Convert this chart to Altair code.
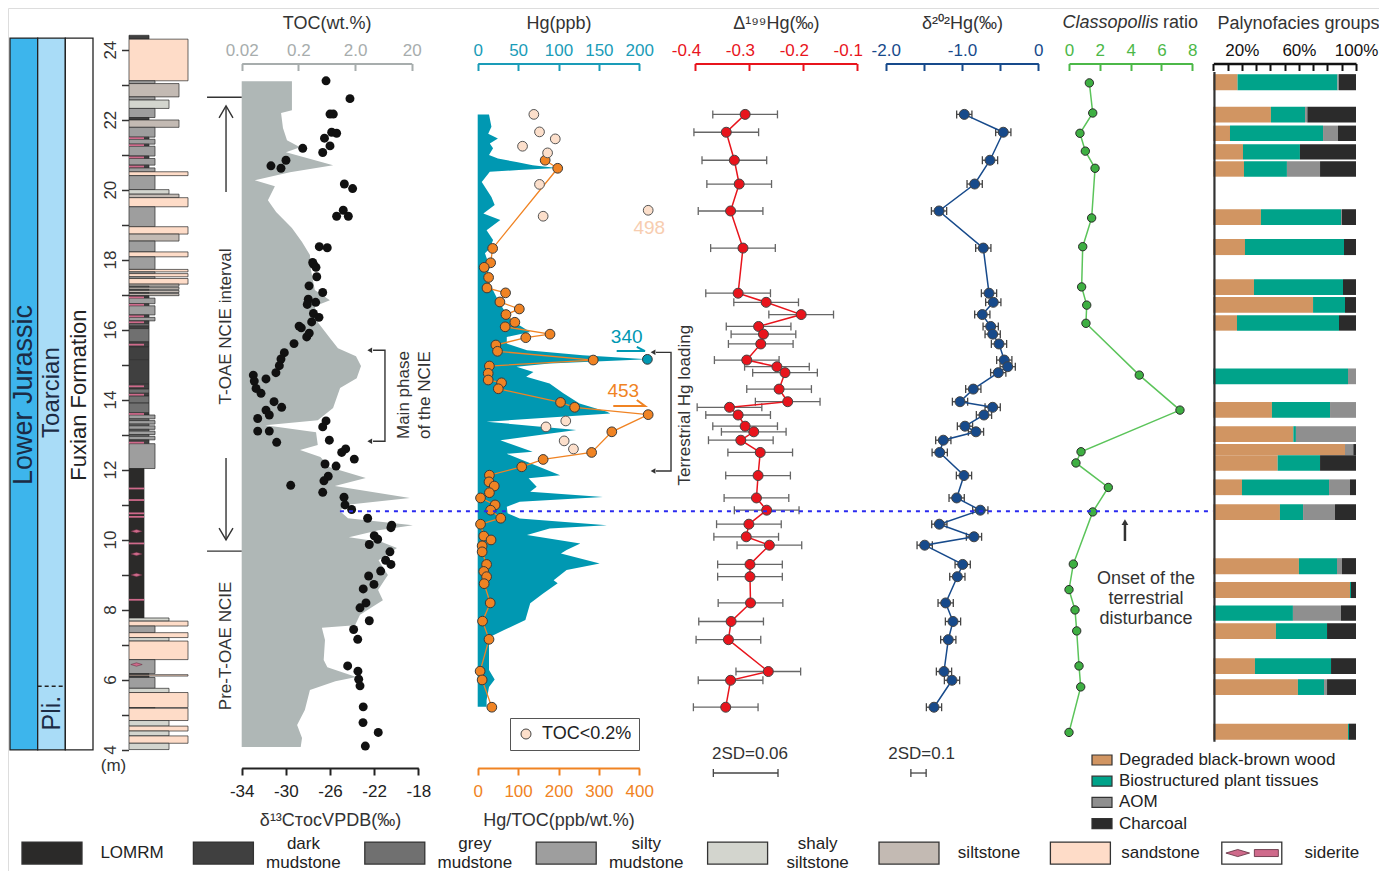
import altair as alt
import pandas as pd

# ============================ DATA ============================
strat_units = ["Lower Jurassic", "Toarcian", "Fuxian Formation"]
strat_top_m = 24.33
strat_base_m = 3.99
pli_boundary_m = 5.81

# lithology beds (top m, base m, lithology)
lith_beds = [
    (24.41, 24.30, "dark mudstone"), (24.30, 23.11, "sandstone"), (23.11, 23.03, "silty mudstone"),
    (23.03, 22.65, "siltstone"), (22.65, 22.56, "silty mudstone"), (22.56, 22.32, "shaly siltstone"),
    (22.32, 22.06, "silty mudstone"), (22.06, 21.99, "dark mudstone"), (21.99, 21.78, "siltstone"),
    (21.78, 21.50, "silty mudstone"), (21.50, 21.44, "dark mudstone"), (21.44, 21.30, "silty mudstone"),
    (21.30, 21.24, "dark mudstone"), (21.24, 20.96, "silty mudstone"), (20.96, 20.89, "dark mudstone"),
    (20.89, 20.70, "silty mudstone"), (20.70, 20.62, "dark mudstone"), (20.62, 20.51, "silty mudstone"),
    (20.51, 20.40, "sandstone"), (20.40, 20.00, "silty mudstone"), (20.00, 19.87, "shaly siltstone"),
    (19.87, 19.77, "siltstone"), (19.77, 19.51, "sandstone"), (19.51, 18.94, "silty mudstone"),
    (18.94, 18.73, "sandstone"), (18.73, 18.53, "siltstone"), (18.53, 18.22, "silty mudstone"),
    (18.22, 18.08, "sandstone"), (18.08, 17.72, "silty mudstone"), (17.72, 17.65, "sandstone"),
    (17.65, 17.60, "silty mudstone"), (17.60, 17.51, "sandstone"), (17.51, 17.46, "silty mudstone"),
    (17.46, 17.30, "sandstone"), (17.30, 17.24, "siltstone"), (17.24, 17.21, "grey mudstone"),
    (17.21, 17.15, "siltstone"), (17.15, 17.12, "grey mudstone"), (17.12, 17.06, "siltstone"),
    (17.06, 17.03, "grey mudstone"), (17.03, 16.97, "siltstone"), (16.97, 16.95, "grey mudstone"),
    (16.95, 16.90, "dark mudstone"), (16.90, 16.74, "silty mudstone"), (16.74, 16.68, "dark mudstone"),
    (16.68, 16.42, "silty mudstone"), (16.42, 16.35, "dark mudstone"), (16.35, 16.25, "silty mudstone"),
    (16.25, 16.17, "dark mudstone"), (16.17, 16.10, "grey mudstone"), (16.10, 16.03, "dark mudstone"),
    (16.03, 15.65, "grey mudstone"), (15.65, 15.50, "dark mudstone"), (15.50, 15.14, "dark mudstone"),
    (15.14, 14.45, "dark mudstone"), (14.45, 14.30, "dark mudstone"), (14.30, 14.18, "grey mudstone"),
    (14.18, 14.10, "dark mudstone"), (14.10, 13.90, "grey mudstone"), (13.90, 13.62, "grey mudstone"),
    (13.62, 13.56, "dark mudstone"), (13.56, 13.45, "silty mudstone"), (13.45, 13.40, "grey mudstone"),
    (13.40, 13.30, "silty mudstone"), (13.30, 13.25, "grey mudstone"), (13.25, 13.15, "silty mudstone"),
    (13.15, 13.10, "grey mudstone"), (13.10, 13.00, "silty mudstone"), (13.00, 12.95, "grey mudstone"),
    (12.95, 12.85, "silty mudstone"), (12.85, 12.74, "dark mudstone"), (12.74, 12.03, "silty mudstone"),
    (12.03, 7.76, "LOMRM"), (7.76, 7.67, "shaly siltstone"), (7.67, 7.53, "sandstone"),
    (7.53, 7.34, "silty mudstone"), (7.34, 7.20, "sandstone"), (7.20, 7.10, "shaly siltstone"),
    (7.10, 6.57, "sandstone"), (6.57, 6.17, "silty mudstone"), (6.17, 6.14, "dark mudstone"),
    (6.14, 6.10, "sandstone"), (6.10, 6.06, "dark mudstone"), (6.06, 5.75, "silty mudstone"),
    (5.75, 5.63, "shaly siltstone"), (5.63, 5.20, "sandstone"), (5.20, 5.18, "silty mudstone"),
    (5.18, 4.83, "sandstone"), (4.83, 4.67, "shaly siltstone"), (4.67, 4.53, "sandstone"),
    (4.53, 4.39, "shaly siltstone"), (4.39, 4.18, "sandstone"), (4.18, 4.00, "shaly siltstone"),
]
siderite_bands_m = [21.47, 21.27, 20.92, 20.66, 16.92, 16.71, 16.38, 16.21, 15.57, 14.38, 14.14,
                    13.59, 12.77, 11.46, 11.13, 10.75, 10.65, 9.89, 8.28]
siderite_lenses_m = [10.24, 9.59, 8.99, 6.43]

# TOC (wt.%) outline
toc_m = [23.10, 22.27, 22.19, 21.76, 21.41, 21.21, 21.07, 20.70, 20.50, 20.27, 20.10, 19.70, 19.36,
         18.90, 18.50, 18.13, 17.70, 17.13, 16.84, 16.67, 16.21, 15.76, 15.47, 15.24, 14.96, 14.61,
         14.33, 13.76, 13.41, 13.27, 13.07, 12.70, 12.56, 12.36, 12.07, 11.76, 11.53, 11.19, 10.99,
         10.81, 10.61, 10.41, 10.27, 10.07, 9.93, 9.76, 9.41, 8.99, 8.56, 8.27, 7.85, 7.55, 7.48,
         7.13, 6.56, 6.35, 6.07, 5.95, 5.70, 5.13, 4.70, 4.33, 4.07]
toc_wt = [0.154, 0.154, 0.099, 0.107, 0.126, 0.214, 0.121, 0.82, 0.142, 0.034, 0.077, 0.058, 0.081,
          0.154, 0.232, 0.32, 0.334, 0.39, 0.72, 0.39, 0.44, 0.72, 1.0, 2.08, 2.55, 2.14,
          1.09, 0.82, 0.44, 0.052, 0.41, 0.44, 0.214, 0.49, 0.72, 3.1, 0.88, 18.6, 1.33,
          1.09, 1.5, 21.0, 5.2, 1.56, 5.9, 11.0, 5.2, 7.6, 5.1, 6.2, 2.45, 2.0, 0.52,
          0.59, 0.56, 0.65, 2.1, 0.9, 0.32, 0.26, 0.19, 0.232, 0.22]

# delta13C TOC
d13c_m = [23.11, 22.60, 22.16, 22.16, 21.64, 21.61, 21.47, 21.25, 21.18, 21.06,
          20.84, 20.68, 20.61, 20.16, 20.03, 19.41, 19.24, 19.24, 18.37, 18.34,
          17.92, 17.87, 17.78, 17.51, 17.25, 17.06, 16.87, 16.72, 16.78, 16.46,
          16.35, 16.22, 16.10, 16.05, 15.79, 15.90, 15.60, 15.34, 15.16, 14.97,
          14.77, 14.59, 14.70, 14.53, 14.32, 14.18, 13.94, 13.78, 13.70, 13.56,
          13.46, 13.39, 13.22, 13.10, 13.10, 12.84, 12.78, 12.59, 12.49, 12.30,
          12.16, 12.10, 11.81, 11.68, 11.55, 11.35, 11.21, 10.99, 10.86, 10.61,
          10.41, 10.34, 10.11, 10.01, 9.86, 9.65, 9.41, 9.29, 9.10, 8.96,
          8.72, 8.59, 8.19, 8.05, 7.68, 7.43, 7.15, 6.39, 6.24, 6.01,
          5.82, 5.22, 4.77, 4.49, 4.10]
d13c_val = [-26.36, -24.19, -26.0, -25.7, -25.85, -25.4, -26.5, -26.0, -28.47, -26.66,
            -29.99, -31.35, -30.44, -24.7, -23.95, -24.8, -25.4, -24.34, -26.97, -26.25,
            -27.57, -27.5, -27.27, -27.2, -27.9, -26.66, -27.97, -28.06, -27.3, -27.5,
            -27.0, -27.66, -28.8, -28.6, -28.11, -27.88, -29.26, -30.14, -30.44, -30.59,
            -30.9, -31.8, -32.95, -32.86, -32.7, -32.25, -31.07, -30.38, -31.8, -31.5,
            -32.55, -26.36, -26.66, -32.55, -31.5, -26.06, -30.83, -24.58, -24.94, -23.8,
            -26.45, -25.45, -26.16, -26.55, -29.56, -26.66, -24.73, -24.64, -24.04, -22.59,
            -20.41, -20.48, -21.99, -21.68, -22.44, -20.57, -20.96, -20.48, -21.41, -22.5,
            -22.02, -22.99, -22.74, -23.28, -22.44, -23.86, -23.49, -24.4, -23.47, -23.4,
            -23.28, -22.99, -23.01, -21.63, -22.8]

# Hg (ppb) outline
hg_m = [22.15, 21.80, 21.60, 21.46, 21.32, 21.18, 20.99, 20.89, 20.79, 20.70,
        20.62, 20.56, 20.51, 20.22, 19.79, 19.56, 19.32, 19.13, 18.84, 18.56,
        18.32, 18.18, 17.79, 17.51, 17.22, 16.94, 16.65, 16.37, 16.13, 15.93,
        15.79, 15.60, 15.41, 15.27, 15.15, 15.03, 14.94, 14.79, 14.65, 14.46,
        14.18, 13.89, 13.65, 13.60, 13.37, 13.13, 12.84, 12.51, 12.45, 11.84,
        11.75, 11.51, 11.37, 11.22, 11.08, 10.94, 10.75, 10.60, 10.41, 10.32,
        10.13, 9.89, 9.70, 9.60, 9.32, 9.13, 8.84, 8.75, 8.46, 8.18,
        7.70, 7.41, 7.22, 7.13, 6.27, 6.00, 5.79, 5.41, 5.22]
hg_ppb = [14, 17, 13, 25, 15, 19, 14, 25, 48, 68,
          98, 51, 15, 5, 17, 21, 7, 28, 11, 19,
          15, 9, 15, 11, 17, 23, 30, 38, 51, 65,
          36, 36, 61, 130, 210, 89, 48, 69, 60, 89,
          106, 126, 160, 164, 11, 122, 28, 68, 36, 102,
          63, 73, 65, 155, 52, 36, 37, 52, 160, 89,
          61, 127, 110, 103, 151, 110, 94, 99, 81, 65,
          59, 32, 15, 14, 14, 21, 14, 11, 11]
hg_peak_m = [15.15]
hg_peak_plotted = [210]      # true value 340 (off scale)

# Hg/TOC (ppb/wt.%)
hgtoc_m = [20.84, 20.61, 18.32, 17.91, 17.78, 17.49, 17.19, 17.05, 16.79, 16.59,
           16.43, 16.21, 16.08, 15.87, 15.77, 15.56, 15.38, 15.13, 14.96, 14.75,
           14.56, 14.48, 14.31, 13.92, 13.78, 13.57, 13.08, 12.49, 12.29, 12.08,
           11.84, 11.65, 11.53, 11.34, 11.19, 10.99, 10.84, 10.61, 10.44, 10.10,
           9.99, 9.82, 9.65, 9.29, 9.09, 8.94, 8.74, 8.19, 7.67, 7.15,
           6.24, 5.99, 5.21]
hgtoc_val = [167, 198, 37, 32, 16, 27, 23, 69, 55, 103,
             70, 92, 68, 179, 119, 45, 49, 286, 29, 26,
             26, 59, 51, 205, 240, 422, 332, 282, 162, 109,
             29, 28, 41, 29, 7, 43, 32, 57, 7, 15,
             33, 11, 11, 22, 15, 22, 16, 31, 12, 28,
             6, 11, 35]
lowtoc_m = [22.15, 21.65, 21.45, 21.24, 21.05, 20.15, 19.24, 19.41, 13.39, 13.22, 12.82, 12.59]
lowtoc_val = [139, 153, 192, 111, 173, 153, 162, 422, 218, 169, 214, 237]

# Hg isotopes
iso_m = [22.15, 21.64, 20.84, 20.16, 19.39, 18.33, 17.04, 16.78, 16.43, 16.09,
         15.87, 15.59, 15.13, 14.94, 14.77, 14.30, 13.94, 13.78, 13.56, 13.24,
         13.08, 12.84, 12.49, 11.83, 11.19, 10.84, 10.44, 10.08, 9.84, 9.29,
         8.94, 8.19, 7.66, 7.14, 6.23, 5.98, 5.21]
d199hg = [-0.307, -0.342, -0.327, -0.318, -0.334, -0.311, -0.320, -0.268, -0.203, -0.282,
          -0.273, -0.278, -0.304, -0.248, -0.233, -0.244, -0.228, -0.336, -0.320, -0.307,
          -0.291, -0.315, -0.279, -0.283, -0.286, -0.267, -0.300, -0.305, -0.262, -0.298,
          -0.298, -0.297, -0.333, -0.338, -0.264, -0.334, -0.343]
d202hg = [-0.970, -0.459, -0.633, -0.834, -1.301, -0.721, -0.646, -0.590, -0.734, -0.624,
          -0.598, -0.515, -0.446, -0.401, -0.525, -0.852, -1.026, -0.598, -0.712, -0.961,
          -0.817, -1.245, -1.292, -0.974, -1.070, -0.760, -1.297, -0.843, -1.489, -0.991,
          -1.061, -1.214, -1.118, -1.180, -1.236, -1.131, -1.367]
d199_2sd = 0.06
d202_2sd = 0.1

# Classopollis ratio
cla_m = [23.05, 22.19, 21.61, 21.10, 20.61, 19.19, 18.37, 17.22, 16.70, 16.18, 14.70, 13.70,
         12.51, 12.19, 11.49, 10.79, 9.30, 8.57, 7.99, 7.39, 6.39, 5.79, 4.49]
cla_ratio = [1.32, 1.54, 0.71, 1.06, 1.69, 1.47, 0.89, 0.82, 1.15, 1.10, 4.56, 7.20,
             0.78, 0.45, 2.55, 1.54, 0.28, 0.0, 0.39, 0.50, 0.65, 0.76, 0.0]

# Palynofacies groups (%)
pal_groups = ["Degraded black-brown wood", "Biostructured plant tissues", "AOM", "Charcoal"]
pal_top = [23.30, 22.37, 21.83, 21.30, 20.81, 19.44, 18.59, 17.44, 16.93, 16.41, 14.89, 13.93,
           13.24, 12.73, 12.41, 11.72, 11.01, 9.47, 8.79, 8.12, 7.61, 6.61, 6.01, 4.74]
pal_bot = [22.84, 21.92, 21.39, 20.86, 20.37, 18.99, 18.13, 16.99, 16.48, 15.97, 14.44, 13.48,
           12.79, 12.41, 11.97, 11.27, 10.56, 9.01, 8.33, 7.68, 7.16, 6.16, 5.56, 4.28]
pal_wood = [17, 40.4, 11.7, 20.8, 21.5, 33.4, 22.2, 28.5, 69.9, 16.6, 0, 41.1,
            56.1, 92.3, 45.1, 20.1, 46.7, 60, 95.8, 0, 43.9, 29.2, 59.3, 94.4]
pal_bio = [70, 23.9, 65.2, 39.9, 30.1, 56.1, 69.4, 62.4, 22.4, 71.5, 94.4, 40.7,
           1.8, 0, 29.7, 61, 16.2, 26.7, 0.7, 55.8, 35.8, 53.3, 18.3, 0.7]
pal_aom = [1, 1.6, 10.5, 0, 23.2, 0.7, 0, 0, 0, 0, 5.6, 18.2,
           42.1, 5.8, 0, 14.7, 22.4, 3.5, 0, 33.7, 0, 0, 2.1, 0]
pal_char = [12, 34.1, 12.6, 39.3, 25.2, 9.8, 8.4, 9.1, 7.7, 11.9, 0, 0,
            0, 1.9, 25.2, 4.2, 14.7, 9.8, 3.5, 10.5, 20.3, 17.5, 20.3, 4.9]

onset_m = 10.81
toae_top_m = 22.64
toae_base_m = 9.67

# ============================ STYLE ============================
FONT = "Liberation Sans"
W, H = 1371, 863
PAGE = 8
YDOM = [0.53, 25.19]
TOP_OFF = 63.5 - (PAGE + H)
BOT_OFF = 768 - (PAGE + H)

LITH_ORDER = ["LOMRM", "dark mudstone", "grey mudstone", "silty mudstone",
              "shaly siltstone", "siltstone", "sandstone"]
LITH_COL = ["#2B2A29", "#404040", "#707070", "#9E9E9E", "#D3D5CE", "#C3BAB3", "#FEDCC8"]
LITH_W = {"LOMRM": 15, "dark mudstone": 20, "grey mudstone": 20, "silty mudstone": 26,
          "shaly siltstone": 40, "siltstone": 50, "sandstone": 59}
PINK = "#CF6A8B"
TOC_GREY = "#A7ADAD"
TEAL = "#0098B2"
ORANGE = "#F08323"
PEACH = "#FCDFCB"
RED = "#E8141C"
NAVY = "#174A8B"
GREEN = "#3EAF42"
GREEN_L = "#5BC45A"
PAL_COL = ["#D19562", "#00A38A", "#8F8F8F", "#2B2B2B"]
LENS_PATH = "M-1,0L0,-0.3L1,0L0,0.3Z"

# bottom lithology key layout (row centre in m, half swatch height, half line spacing)
KEY_C, KEY_HALF, KEY_LINE = 1.043, 0.314, 0.271

SC = {
    "strat": dict(domain=[0, 3], range=[2, 85]),
    "lith": dict(domain=[0, 60], range=[121, 181]),
    "d13": dict(domain=[-34, -18], range=[233.7, 410.3]),
    "toc": dict(type="log", domain=[0.02, 20], range=[233.7, 403.7]),
    "hg": dict(domain=[0, 200], range=[469.7, 631.3]),
    "hgtoc": dict(domain=[0, 400], range=[469.7, 631.3]),
    "d199": dict(domain=[-0.4, -0.1], range=[687, 848.7]),
    "d202": dict(domain=[-2, 0], range=[877.7, 1030.3]),
    "cla": dict(domain=[0, 8], range=[1061, 1184.3]),
    "pal": dict(domain=[0, 100], range=[1205.3, 1348]),
    "key": dict(domain=[0, 8], range=[14, 1385.2]),
}


def xscale(name):
    d = dict(SC[name])
    d["nice"] = False
    if d.get("type") != "log":
        d["zero"] = False
    return alt.Scale(**d)


def X(field, sc, axis=None):
    return alt.X(field, type="quantitative", scale=xscale(sc), axis=axis)


def Y(field="m", axis=None):
    return alt.Y(field, type="quantitative",
                 scale=alt.Scale(domain=YDOM, nice=False, zero=False), axis=axis)


def top_axis(title, values, color, label_expr, **extra):
    kw = dict(orient="bottom", offset=TOP_OFF, values=values, labelExpr=label_expr,
              domainColor=color, domainWidth=2, tickColor=color, tickWidth=2, tickSize=7,
              labelColor=color, labelFontSize=17, labelBaseline="alphabetic", labelPadding=-15.5,
              labelFlush=False, labelOverlap=False, grid=False, title=title,
              titleFontSize=18, titleFontWeight="normal", titleColor="#333",
              titleY=-35.5, titleBaseline="alphabetic")
    kw.update(extra)
    return alt.Axis(**kw)


def bottom_axis(title, values, color, label_expr):
    return alt.Axis(orient="bottom", offset=BOT_OFF, values=values, labelExpr=label_expr,
                    domainColor=color, domainWidth=2, tickColor=color, tickWidth=2, tickSize=7,
                    labelColor=color, labelFontSize=17, labelPadding=8, labelFlush=False,
                    labelOverlap=False, grid=False, title=title, titleFontSize=18,
                    titleFontWeight="normal", titleColor="#333", titleY=57,
                    titleBaseline="alphabetic")


def text_layer(df_or_rows, sc, angle=None, **kw):
    df = df_or_rows if isinstance(df_or_rows, pd.DataFrame) else \
        pd.DataFrame(df_or_rows, columns=["t", "x", "m", "fs", "col"])
    mk = dict(font=FONT, align="center", baseline="middle")
    mk.update(kw)
    if angle is not None:
        mk["angle"] = angle
    return alt.Chart(df).mark_text(**mk).encode(
        x=X("x", sc), y=Y("m"), text="t:N",
        size=alt.Size("fs:Q", scale=None), color=alt.Color("col:N", scale=None))


def seg_layer(rows, sc, color, width):
    df = pd.DataFrame(rows, columns=["seg", "i", "x", "m"])
    return alt.Chart(df).mark_line(color=color, strokeWidth=width).encode(
        x=X("x", sc), y=Y("m"), detail="seg:N", order="i:Q")


layers = []

# ---------------- stratigraphic columns ----------------
strat_df = pd.DataFrame({"unit": strat_units, "c0": [0, 1, 2], "c1": [1, 2, 3],
                         "top": strat_top_m, "bot": strat_base_m,
                         "col": ["#3DB5EC", "#A9DCF7", "#FFFFFF"]})
layers.append(alt.Chart(strat_df).mark_rect(stroke="#222", strokeWidth=1.3).encode(
    x=X("c0", "strat"), x2=alt.X2("c1"), y=Y("top"), y2=alt.Y2("bot"),
    fill=alt.Fill("col:N", scale=None)))
pli_df = pd.DataFrame({"c0": [1], "c1": [2], "m": [pli_boundary_m]})
layers.append(alt.Chart(pli_df).mark_rule(color="#222", strokeWidth=1.5, strokeDash=[4, 3]).encode(
    x=X("c0", "strat"), x2=alt.X2("c1"), y=Y("m")))
layers.append(text_layer([
    ("Lower Jurassic", 0.5, 14.13, 27, "#1C2B44"),
    ("Toarcian", 1.5, 14.2, 24, "#1C2B44"),
    ("Pli.", 1.5, 5.04, 25, "#1C2B44"),
    ("Fuxian Formation", 2.5, 14.13, 22, "#222222"),
], "strat", angle=270))

# ---------------- lithology column ----------------
lith_df = pd.DataFrame(lith_beds, columns=["top", "bot", "lith"])
lith_df["w0"] = 0
lith_df["w"] = lith_df["lith"].map(LITH_W)
y_axis = alt.Axis(orient="left", offset=-120.5, values=list(range(4, 25)),
                  labelExpr="datum.value % 2 === 0 ? datum.label : ''",
                  labelAngle=270, labelAlign="center", labelBaseline="bottom",
                  labelFontSize=17, labelColor="#333", labelPadding=2,
                  tickSize=7, tickColor="#333", tickWidth=1.5, domain=False, grid=False,
                  title="(m)", titleAngle=0, titleX=-15.5, titleY=762,
                  titleBaseline="alphabetic", titleAlign="center", titleFontSize=17,
                  titleFontWeight="normal", titleColor="#333")
lith_fill = alt.Fill("lith:N", scale=alt.Scale(domain=LITH_ORDER, range=LITH_COL), legend=None)
layers.append(alt.Chart(lith_df).mark_rect(stroke="#2A2A2A", strokeWidth=0.7).encode(
    x=X("w0", "lith"), x2=alt.X2("w"), y=Y("top", axis=y_axis), y2=alt.Y2("bot"), fill=lith_fill))

band_df = pd.DataFrame({"m": siderite_bands_m})
band_df["t"] = band_df["m"] + 0.025
band_df["b"] = band_df["m"] - 0.025
band_df["x0"] = 0
band_df["x1"] = LITH_W["LOMRM"]
layers.append(alt.Chart(band_df).mark_rect(color=PINK).encode(
    x=X("x0", "lith"), x2=alt.X2("x1"), y=Y("t"), y2=alt.Y2("b")))

lens_df = pd.DataFrame({"m": siderite_lenses_m})
lens_df["x"] = LITH_W["LOMRM"] / 2
layers.append(alt.Chart(lens_df).mark_point(shape=LENS_PATH, size=130, filled=True, opacity=1,
                                            fill=PINK, stroke="#5A2A3A", strokeWidth=0.5).encode(
    x=X("x", "lith"), y=Y("m")))

# ---------------- lithology key (bottom row) ----------------
key_items = LITH_ORDER + ["siderite"]
key = pd.DataFrame({"lith": key_items, "i": range(len(key_items))})
key["x0"] = key["i"]
key["x1"] = key["i"] + 0.35
key["xl"] = key["i"] + 0.642
key["t"] = KEY_C + KEY_HALF
key["b"] = KEY_C - KEY_HALF
sw = key[key["lith"] != "siderite"]
layers.append(alt.Chart(sw).mark_rect(stroke="#333", strokeWidth=1.3).encode(
    x=X("x0", "key"), x2=alt.X2("x1"), y=Y("t"), y2=alt.Y2("b"), fill=lith_fill))
sid = key[key["lith"] == "siderite"].copy()
layers.append(alt.Chart(sid).mark_rect(stroke="#333", strokeWidth=1.3, fill="white").encode(
    x=X("x0", "key"), x2=alt.X2("x1"), y=Y("t"), y2=alt.Y2("b")))
sid_lens = pd.DataFrame({"x": sid["i"] + 0.093, "m": KEY_C})
layers.append(alt.Chart(sid_lens).mark_point(shape=LENS_PATH, size=560, filled=True, opacity=1,
                                             fill=PINK, stroke="#5A2A3A", strokeWidth=0.8).encode(
    x=X("x", "key"), y=Y("m")))
sid_bar = pd.DataFrame({"x0": sid["i"] + 0.19, "x1": sid["i"] + 0.33,
                        "t": KEY_C + 0.1, "b": KEY_C - 0.1})
layers.append(alt.Chart(sid_bar).mark_rect(fill=PINK, stroke="#5A2A3A", strokeWidth=0.8).encode(
    x=X("x0", "key"), x2=alt.X2("x1"), y=Y("t"), y2=alt.Y2("b")))
lab_rows = []
for _, r in key.iterrows():
    words = r["lith"].split(" ")
    if len(words) == 1:
        lab_rows.append((words[0], r["xl"], KEY_C, 17, "#222"))
    else:
        lab_rows.append((words[0], r["xl"], KEY_C + KEY_LINE, 17, "#222"))
        lab_rows.append((words[1], r["xl"], KEY_C - KEY_LINE, 17, "#222"))
layers.append(text_layer(lab_rows, "key"))

# ---------------- TOC / d13C ----------------
toc_df = pd.DataFrame({"m": toc_m, "toc": toc_wt})
toc_df["base"] = 0.02
layers.append(alt.Chart(toc_df).mark_area(orient="horizontal", color="#AFB7B6", opacity=1).encode(
    x=X("toc", "toc", axis=top_axis(
        "TOC(wt.%)", [0.02, 0.2, 2, 20], TOC_GREY,
        "datum.value < 0.05 ? '0.02' : datum.value < 0.5 ? '0.2' : datum.value < 5 ? '2.0' : '20'")),
    x2=alt.X2("base"), y=Y("m")))

d13_df = pd.DataFrame({"m": d13c_m, "v": d13c_val})
layers.append(alt.Chart(d13_df).mark_circle(size=80, color="#111", opacity=1).encode(
    x=X("v", "d13", axis=bottom_axis("δ¹³CᴛᴏᴄVPDB(‰)", [-34, -30, -26, -22, -18], "#222",
                                     "toString(datum.value)")),
    y=Y("m")))

# ---------------- Hg / Hg-TOC ----------------
hg_df = pd.DataFrame({"m": hg_m, "hg": hg_ppb})
hg_df["zero"] = 0
layers.append(alt.Chart(hg_df).mark_area(orient="horizontal", color=TEAL, opacity=1).encode(
    x=X("hg", "hg", axis=top_axis("Hg(ppb)", [0, 50, 100, 150, 200], "#1A9CB8",
                                  "toString(datum.value)")),
    x2=alt.X2("zero"), y=Y("m")))

ht_df = pd.DataFrame({"m": hgtoc_m, "v": hgtoc_val})
layers.append(alt.Chart(ht_df).mark_line(color=ORANGE, strokeWidth=1.3).encode(
    x=X("v", "hgtoc"), y=Y("m"), order=alt.Order("m:Q")))
layers.append(alt.Chart(ht_df).mark_point(filled=True, size=95, fill=ORANGE, stroke="#3A3A3A",
                                          strokeWidth=1, opacity=1).encode(
    x=X("v", "hgtoc", axis=bottom_axis("Hg/TOC(ppb/wt.%)", [0, 100, 200, 300, 400], ORANGE,
                                       "toString(datum.value)")),
    y=Y("m")))

lt_df = pd.DataFrame({"m": lowtoc_m, "v": lowtoc_val})
lt_df["flag"] = "TOC<0.2%"
toc_legend = alt.Legend(title=None, orient="none", legendX=502, legendY=710, symbolType="circle",
                        symbolSize=100, symbolStrokeColor="#444", symbolStrokeWidth=1,
                        symbolOpacity=1, labelFontSize=18, labelColor="#222",
                        strokeColor="#555", padding=7, labelOffset=7)
layers.append(alt.Chart(lt_df).mark_point(filled=True, size=95, stroke="#555", strokeWidth=1,
                                          opacity=1).encode(
    x=X("v", "hgtoc"), y=Y("m"),
    fill=alt.Fill("flag:N", scale=alt.Scale(domain=["TOC<0.2%"], range=[PEACH]), legend=toc_legend)))

peak_df = pd.DataFrame({"m": hg_peak_m, "v": hg_peak_plotted})
layers.append(alt.Chart(peak_df).mark_point(filled=True, size=95, fill=TEAL, stroke="#333",
                                            strokeWidth=1, opacity=1).encode(
    x=X("v", "hg"), y=Y("m")))


# ---------------- Hg isotopes ----------------
def iso_layers(vals, err, sc, color, line_color, err_color, axis):
    df = pd.DataFrame({"m": iso_m, "v": vals})
    df["lo"] = df["v"] - err
    df["hi"] = df["v"] + err
    caps = pd.concat([pd.DataFrame({"m": df["m"], "x": df["lo"]}),
                      pd.DataFrame({"m": df["m"], "x": df["hi"]})])
    return [
        alt.Chart(df).mark_rule(color=err_color, strokeWidth=1.3).encode(
            x=X("lo", sc), x2=alt.X2("hi"), y=Y("m")),
        alt.Chart(caps).mark_tick(orient="vertical", size=8, thickness=1.3, color=err_color,
                                  opacity=1).encode(x=X("x", sc), y=Y("m")),
        alt.Chart(df).mark_line(color=line_color, strokeWidth=1.5).encode(
            x=X("v", sc), y=Y("m"), order=alt.Order("m:Q")),
        alt.Chart(df).mark_point(filled=True, size=100, fill=color, stroke="#444",
                                 strokeWidth=1, opacity=1).encode(
            x=X("v", sc, axis=axis), y=Y("m")),
    ]


layers += iso_layers(d199hg, d199_2sd, "d199", RED, RED, "#666",
                     top_axis("Δ¹⁹⁹Hg(‰)", [-0.4, -0.3, -0.2, -0.1], RED,
                              "toString(datum.value)", labelOffset=-9))
layers += iso_layers(d202hg, d202_2sd, "d202", NAVY, NAVY, "#444",
                     top_axis("δ²⁰²Hg(‰)", [-2, -1.5, -1, -0.5, 0], NAVY,
                              "datum.value == -2 ? '-2.0' : datum.value == -1 ? '-1.0' : datum.value == 0 ? '0' : ''"))

# ---------------- Classopollis ----------------
cla_df = pd.DataFrame({"m": cla_m, "v": cla_ratio})
layers.append(alt.Chart(cla_df).mark_line(color=GREEN_L, strokeWidth=1.5).encode(
    x=X("v", "cla"), y=Y("m"), order=alt.Order("m:Q")))
layers.append(alt.Chart(cla_df).mark_point(filled=True, size=70, fill=GREEN, stroke="#2A2A2A",
                                           strokeWidth=1, opacity=1).encode(
    x=X("v", "cla", axis=top_axis(None, [0, 2, 4, 6, 8], "#4CB848", "toString(datum.value)")),
    y=Y("m")))

# ---------------- Palynofacies ----------------
rows = []
for i in range(len(pal_top)):
    acc = 0.0
    for g, val in zip(pal_groups, [pal_wood[i], pal_bio[i], pal_aom[i], pal_char[i]]):
        if val > 0:
            rows.append({"top": pal_top[i], "bot": pal_bot[i], "grp": g, "x0": acc, "x1": acc + val})
        acc += val
pal_df = pd.DataFrame(rows)
pal_legend = alt.Legend(title=None, orient="none", legendX=1083, legendY=741, direction="vertical",
                        symbolType="M-1,-0.5H1V0.5H-1Z", symbolSize=400, symbolStrokeColor="#333",
                        symbolStrokeWidth=1.2, symbolOpacity=1, labelFontSize=17,
                        labelColor="#222", labelOffset=6, rowPadding=2.2, labelLimit=300)
layers.append(alt.Chart(pal_df).mark_rect().encode(
    x=X("x0", "pal", axis=top_axis(
        "Palynofacies groups", list(range(0, 101, 10)), "#111",
        "(datum.value == 20 || datum.value == 60 || datum.value == 100) ? datum.value + '%' : ''",
        domainWidth=2.5, titleX=1290)),
    x2=alt.X2("x1"), y=Y("top"), y2=alt.Y2("bot"),
    fill=alt.Fill("grp:N", scale=alt.Scale(domain=pal_groups, range=PAL_COL), legend=pal_legend)))
pal_axis_df = pd.DataFrame({"x": [0.8], "top": [23.36], "bot": [4.22]})
layers.append(alt.Chart(pal_axis_df).mark_rule(color="#333", strokeWidth=2.2).encode(
    x=X("x", "pal"), y=Y("top"), y2=alt.Y2("bot")))

# ---------------- onset line ----------------
onset_df = pd.DataFrame({"x0": [-25.1], "x1": [54.0], "m": [onset_m]})
layers.append(alt.Chart(onset_df).mark_rule(color="#2A2AF0", strokeWidth=2, strokeDash=[4, 5]).encode(
    x=X("x0", "d13"), x2=alt.X2("x1"), y=Y("m")))

# ---------------- annotations ----------------
layers.append(seg_layer([
    ("up_s", 0, -35.42, 19.93), ("up_s", 1, -35.42, 22.39),
    ("up_h", 0, -36.05, 22.05), ("up_h", 1, -35.42, 22.39), ("up_h", 2, -34.79, 22.05),
    ("dn_s", 0, -35.42, 12.33), ("dn_s", 1, -35.42, 9.99),
    ("dn_h", 0, -36.05, 10.33), ("dn_h", 1, -35.42, 9.99), ("dn_h", 2, -34.79, 10.33),
    ("tl", 0, -37.14, toae_top_m), ("tl", 1, -34.0, toae_top_m),
    ("bl", 0, -37.14, toae_base_m), ("bl", 1, -34.0, toae_base_m),
    ("br", 0, -22.1, 15.41), ("br", 1, -21.02, 15.41), ("br", 2, -21.02, 12.81), ("br", 3, -22.1, 12.81),
], "d13", "#333", 1.4))
tri_df = pd.DataFrame({"x": [-22.4, -22.4], "m": [15.41, 12.81]})
layers.append(alt.Chart(tri_df).mark_point(shape="triangle-left", filled=True, size=30,
                                           color="#333", opacity=1).encode(x=X("x", "d13"), y=Y("m")))
layers.append(text_layer([
    ("T-OAE NCIE interval", -35.42, 16.09, 17, "#333"),
    ("Pre-T-OAE NCIE", -35.42, 6.96, 17, "#333"),
    ("Main phase", -19.3, 14.13, 17, "#333"),
    ("of the NCIE", -17.4, 14.13, 17, "#333"),
], "d13", angle=270))

layers.append(seg_layer([
    ("tb", 0, 441.3, 15.35), ("tb", 1, 478.5, 15.35), ("tb", 2, 478.5, 11.96), ("tb", 3, 441.3, 11.96),
], "hgtoc", "#333", 1.4))
tri2_df = pd.DataFrame({"x": [434.0, 434.0], "m": [15.35, 11.96]})
layers.append(alt.Chart(tri2_df).mark_point(shape="triangle-left", filled=True, size=30,
                                            color="#333", opacity=1).encode(x=X("x", "hgtoc"), y=Y("m")))
layers.append(seg_layer([
    ("a", 0, 344, 15.386), ("a", 1, 414, 15.386), ("a", 2, 393.8, 15.51),
], "hgtoc", TEAL, 2))
layers.append(seg_layer([
    ("b", 0, 335.6, 13.82), ("b", 1, 414, 13.82), ("b", 2, 393.8, 13.99),
], "hgtoc", ORANGE, 2))
layers.append(text_layer([
    ("340", 368.8, 15.78, 19, TEAL),
    ("453", 360.4, 14.25, 19, ORANGE),
    ("498", 424.8, 18.91, 19, "#F7CDB0"),
], "hgtoc"))
layers.append(text_layer([("Terrestrial Hg loading", 513.1, 13.84, 17, "#333")], "hgtoc", angle=270))

sd1 = pd.DataFrame({"lo": [-0.306 - d199_2sd], "hi": [-0.306 + d199_2sd], "m": [3.33]})
sd2 = pd.DataFrame({"lo": [-1.57 - d202_2sd], "hi": [-1.57 + d202_2sd], "m": [3.33]})
for df_, sc in [(sd1, "d199"), (sd2, "d202")]:
    layers.append(alt.Chart(df_).mark_rule(color="#444", strokeWidth=1.3).encode(
        x=X("lo", sc), x2=alt.X2("hi"), y=Y("m")))
    caps_ = pd.DataFrame({"x": [df_["lo"][0], df_["hi"][0]], "m": [3.33, 3.33]})
    layers.append(alt.Chart(caps_).mark_tick(orient="vertical", size=8, thickness=1.3, color="#444",
                                             opacity=1).encode(x=X("x", sc), y=Y("m")))
layers.append(text_layer([("2SD=0.06", -0.298, 3.86, 17, "#333")], "d199"))
layers.append(text_layer([("2SD=0.1", -1.53, 3.86, 17, "#333")], "d202"))

onset_arrow = pd.DataFrame({"x": [3.63], "m0": [9.96], "m1": [10.45]})
layers.append(alt.Chart(onset_arrow).mark_rule(color="#333", strokeWidth=2.5).encode(
    x=X("x", "cla"), y=Y("m0"), y2=alt.Y2("m1")))
tri3_df = pd.DataFrame({"x": [3.63], "m": [10.5]})
layers.append(alt.Chart(tri3_df).mark_point(shape="triangle-up", filled=True, size=45,
                                            color="#333", opacity=1).encode(x=X("x", "cla"), y=Y("m")))
layers.append(text_layer([("Onset of the\nterrestrial\ndisturbance", 5.0, 8.87, 18, "#333")], "cla",
                         lineBreak="\n", lineHeight=20))
layers.append(text_layer([("Classopollis", 5.81, 24.61, 18, "#333")], "cla",
                         align="right", baseline="alphabetic", fontStyle="italic"))
layers.append(text_layer([("ratio", 6.10, 24.61, 18, "#333")], "cla",
                         align="left", baseline="alphabetic"))

chart = alt.layer(*layers).resolve_scale(x="independent", fill="independent").resolve_axis(
    y="independent").properties(
    width=W, height=H, padding=0, autosize=alt.AutoSizeParams(type="none")
).configure_view(stroke=None).configure(font=FONT).configure_axis(grid=False)

chart.save("out.html", embed_options={"renderer": "svg", "actions": False})
